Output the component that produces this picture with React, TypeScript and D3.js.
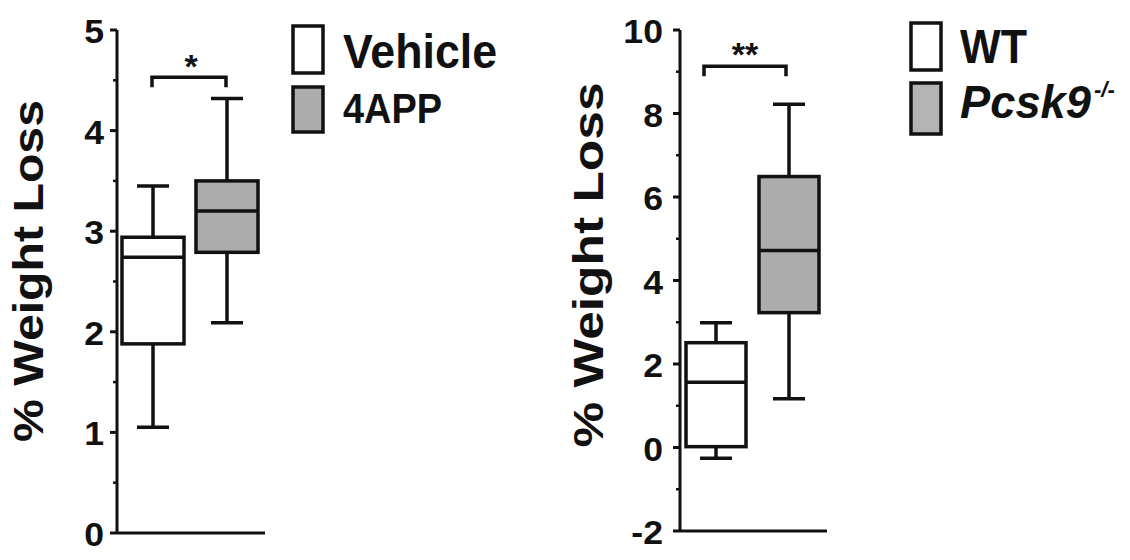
import React from "react";
import * as d3 from "d3";

// ---------- Data ----------
const leftGroups = ["Vehicle", "4APP"];
const leftMin = [1.05, 2.09];
const leftQ1 = [1.88, 2.79];
const leftMedian = [2.74, 3.2];
const leftQ3 = [2.94, 3.5];
const leftMax = [3.45, 4.32];
const leftTicks = [0, 1, 2, 3, 4, 5];
const leftMinorTicks = [0.5, 1.5, 2.5, 3.5, 4.5];
const leftStar = "*";
const leftBracket = [4.53, 4.43];

const rightGroups = ["WT", "Pcsk9"];
const rightSup = "-/-";
const rightMin = [-0.26, 1.17];
const rightQ1 = [0.02, 3.23];
const rightMedian = [1.56, 4.72];
const rightQ3 = [2.51, 6.49];
const rightMax = [2.99, 8.22];
const rightTicks = [-2, 0, 2, 4, 6, 8, 10];
const rightMinorTicks = [-1, 1, 3, 5, 7, 9];
const rightStar = "**";
const rightBracket = [9.13, 8.89];

const boxFills = ["#ffffff", "#acacac"];
const yLabel = "% Weight Loss";

const FONT = "Arial, 'Liberation Sans', Helvetica, sans-serif";
const INK = "#111";

type PanelProps = {
  groups: string[];
  mins: number[];
  q1: number[];
  med: number[];
  q3: number[];
  maxs: number[];
  ticks: number[];
  minor: number[];
  star: string;
  bracket: number[];
  domain: [number, number];
  axisX: number;
  axisEnd: number;
  yTop: number;
  yBottom: number;
  boxRange: [number, number];
  padInner: number;
  labelX: number;
  labelY: number;
  labelLen: number;
  tickLabelX: number;
  bracketOffset: [number, number];
  starX: number;
  starY: number;
};

function Panel(p: PanelProps) {
  const y = d3.scaleLinear().domain(p.domain).range([p.yBottom, p.yTop]);
  const x = d3
    .scaleBand<string>()
    .domain(p.groups)
    .range(p.boxRange)
    .paddingInner(p.padInner)
    .paddingOuter(0);
  const bw = x.bandwidth();
  const capHalf = 16;
  const sw = 3.5;
  const cx = (g: string) => (x(g) as number) + bw / 2;
  const bx0 = cx(p.groups[0]) + p.bracketOffset[0];
  const bx1 = cx(p.groups[1]) + p.bracketOffset[1];
  return (
    <g>
      {/* y label */}
      <text
        transform={`translate(${p.labelX},${p.labelY}) rotate(-90)`}
        textAnchor="middle"
        fontFamily={FONT}
        fontWeight="bold"
        fontSize={43}
        textLength={p.labelLen}
        lengthAdjust="spacingAndGlyphs"
        fill={INK}
      >
        {yLabel}
      </text>
      {/* axes */}
      <line x1={p.axisX} x2={p.axisX} y1={y(p.domain[1])} y2={y(p.domain[0])} stroke={INK} strokeWidth={3} />
      <line x1={p.axisX} x2={p.axisEnd} y1={y(p.domain[0])} y2={y(p.domain[0])} stroke={INK} strokeWidth={3} />
      {p.ticks.map((t) => (
        <g key={"t" + t}>
          <line x1={p.axisX - 7} x2={p.axisX} y1={y(t)} y2={y(t)} stroke={INK} strokeWidth={3} />
          <text
            transform={`translate(${p.tickLabelX},${y(t) + 13}) scale(1.08,1)`}
            textAnchor="end"
            fontFamily={FONT}
            fontWeight="bold"
            fontSize={33}
            fill={INK}
          >
            {t}
          </text>
        </g>
      ))}
      {p.minor.map((t) => (
        <line key={"m" + t} x1={p.axisX - 4} x2={p.axisX} y1={y(t)} y2={y(t)} stroke={INK} strokeWidth={2.5} />
      ))}
      {/* boxes */}
      {p.groups.map((g, i) => (
        <g key={g}>
          <line x1={cx(g)} x2={cx(g)} y1={y(p.maxs[i])} y2={y(p.q3[i])} stroke={INK} strokeWidth={sw} />
          <line x1={cx(g)} x2={cx(g)} y1={y(p.q1[i])} y2={y(p.mins[i])} stroke={INK} strokeWidth={sw} />
          <line x1={cx(g) - capHalf} x2={cx(g) + capHalf} y1={y(p.maxs[i])} y2={y(p.maxs[i])} stroke={INK} strokeWidth={sw} />
          <line x1={cx(g) - capHalf} x2={cx(g) + capHalf} y1={y(p.mins[i])} y2={y(p.mins[i])} stroke={INK} strokeWidth={sw} />
          <rect
            x={x(g)}
            y={y(p.q3[i])}
            width={bw}
            height={y(p.q1[i]) - y(p.q3[i])}
            fill={boxFills[i]}
            stroke={INK}
            strokeWidth={sw}
          />
          <line x1={x(g)} x2={(x(g) as number) + bw} y1={y(p.med[i])} y2={y(p.med[i])} stroke={INK} strokeWidth={sw} />
        </g>
      ))}
      {/* significance bracket */}
      <path
        d={`M${bx0},${y(p.bracket[1])}V${y(p.bracket[0])}H${bx1}V${y(p.bracket[1])}`}
        fill="none"
        stroke={INK}
        strokeWidth={sw}
      />
      <text x={p.starX} y={p.starY} textAnchor="middle" fontFamily={FONT} fontWeight="bold" fontSize={34} fill={INK}>
        {p.star}
      </text>
    </g>
  );
}

function LegendBoxes({ x, rows }: { x: number; rows: { y: number; h: number; fill: string }[] }) {
  return (
    <g>
      {rows.map((r, i) => (
        <rect key={i} x={x} y={r.y} width={30} height={r.h} fill={r.fill} stroke={INK} strokeWidth={3.5} />
      ))}
    </g>
  );
}

export default function App() {
  return (
    <svg
      width={1130}
      height={560}
      viewBox="0 0 1130 560"
      style={{ position: "absolute", left: 0, top: 0, background: "#fff" }}
    >
      <rect width={1130} height={560} fill="#fff" />
      <Panel
        groups={leftGroups}
        mins={leftMin}
        q1={leftQ1}
        med={leftMedian}
        q3={leftQ3}
        maxs={leftMax}
        ticks={leftTicks}
        minor={leftMinorTicks}
        star={leftStar}
        bracket={leftBracket}
        domain={[0, 5]}
        axisX={117}
        axisEnd={265}
        yTop={30}
        yBottom={533}
        boxRange={[122, 258]}
        padInner={0.162}
        labelX={43}
        labelY={271}
        labelLen={342}
        tickLabelX={104}
        bracketOffset={[-1, -1]}
        starX={191}
        starY={78}
      />
      <Panel
        groups={rightGroups}
        mins={rightMin}
        q1={rightQ1}
        med={rightMedian}
        q3={rightQ3}
        maxs={rightMax}
        ticks={rightTicks}
        minor={rightMinorTicks}
        star={rightStar}
        bracket={rightBracket}
        domain={[-2, 10]}
        axisX={680}
        axisEnd={827}
        yTop={30}
        yBottom={531}
        boxRange={[686, 819]}
        padInner={0.178}
        labelX={603}
        labelY={265}
        labelLen={365}
        tickLabelX={663}
        bracketOffset={[-12, -3]}
        starX={745}
        starY={66}
      />
      {/* left legend */}
      <LegendBoxes
        x={293}
        rows={[
          { y: 26, h: 47, fill: boxFills[0] },
          { y: 87, h: 45, fill: boxFills[1] },
        ]}
      />
      <text x={343} y={68} fontFamily={FONT} fontWeight="bold" fontSize={48} textLength={154} lengthAdjust="spacingAndGlyphs" fill={INK}>
        {leftGroups[0]}
      </text>
      <text x={343} y={123} fontFamily={FONT} fontWeight="bold" fontSize={42} textLength={99} lengthAdjust="spacingAndGlyphs" fill={INK}>
        {leftGroups[1]}
      </text>
      {/* right legend */}
      <LegendBoxes
        x={911}
        rows={[
          { y: 23, h: 47, fill: boxFills[0] },
          { y: 83, h: 51, fill: "#b4b4b4" },
        ]}
      />
      <text x={960} y={63} fontFamily={FONT} fontWeight="bold" fontSize={48} textLength={67} lengthAdjust="spacingAndGlyphs" fill={INK}>
        {rightGroups[0]}
      </text>
      <text x={960} y={118} fontFamily={FONT} fontWeight="bold" fontStyle="italic" fontSize={47} textLength={131} lengthAdjust="spacingAndGlyphs" fill={INK}>
        {rightGroups[1]}
      </text>
      <text x={1094} y={97} fontFamily={FONT} fontWeight="bold" fontStyle="italic" fontSize={22} fill={INK}>
        {rightSup}
      </text>
    </svg>
  );
}
